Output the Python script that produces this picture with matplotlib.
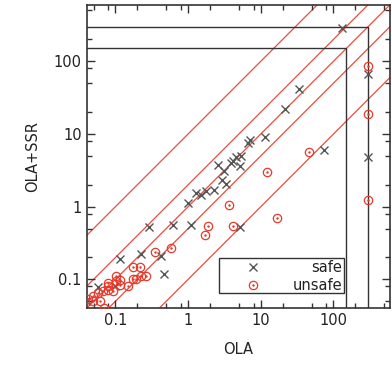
import numpy as np
import matplotlib
matplotlib.use("Agg")
import matplotlib.pyplot as plt
from matplotlib.patches import Rectangle
from matplotlib.ticker import LogLocator, FuncFormatter, NullFormatter

# runtimes (s): OLA vs OLA+SSR
safe_ola = [0.039, 0.058, 0.1, 0.117, 0.225, 0.43, 0.47, 0.29, 0.62, 1.08, 1.0,
            1.29, 1.5, 1.76, 2.29, 2.9, 3.3, 2.55, 3.14, 3.95, 4.1, 4.5, 5.3,
            5.1, 6.6, 7.2, 11.5, 21.5, 34, 74, 5.2, 130, 300, 300]
safe_ssr = [0.05, 0.079, 0.082, 0.19, 0.22, 0.21, 0.12, 0.53, 0.56, 0.56, 1.11,
            1.55, 1.45, 1.62, 1.72, 2.32, 2.05, 3.8, 3.05, 4.0, 4.2, 4.84, 5.0,
            3.65, 7.4, 8.2, 9.2, 22, 42, 6, 0.53, 290, 67, 4.8]

unsafe_ola = [0.042, 0.049, 0.049, 0.058, 0.061, 0.069, 0.068, 0.079, 0.079,
              0.079, 0.093, 0.101, 0.103, 0.114, 0.117, 0.149, 0.174, 0.215,
              0.174, 0.194, 0.227, 0.26, 0.35, 0.585, 1.73, 1.86, 4.08, 3.7,
              16.9, 12.3, 46, 300, 300, 300]
unsafe_ssr = [0.053, 0.05, 0.06, 0.064, 0.05, 0.041, 0.069, 0.071, 0.08,
              0.09, 0.07, 0.11, 0.094, 0.085, 0.099, 0.08, 0.15, 0.15,
              0.1, 0.1, 0.11, 0.11, 0.24, 0.27, 0.41, 0.54, 0.54, 1.07,
              0.69, 2.96, 5.7, 85, 18.6, 1.24]

ratios = [10, 2, 1, 0.5, 0.1]
timeouts = [150, 300]
lo, hi = 0.04, 600

red = "#e8392a"
gray = "#555555"

fig = plt.figure(figsize=(3.92, 3.65), dpi=100)
ax = fig.add_axes([0.2207, 0.1553, 0.7743, 0.8318])
ax.set_xscale("log")
ax.set_yscale("log")
ax.set_xlim(lo, hi)
ax.set_ylim(lo, hi)

xs = np.array([lo, hi])
for r in ratios:
    ax.plot(xs, r * xs, color=red, lw=0.9, alpha=0.9, zorder=1)

for t in timeouts:
    ax.plot([lo, t, t], [t, t, lo], color="#333333", lw=1.0, zorder=2)

ax.plot(safe_ola, safe_ssr, ls="none", marker="x", ms=6, mew=1.0, color=gray, zorder=3)
ax.plot(unsafe_ola, unsafe_ssr, ls="none", marker="o", ms=6, mew=0.9,
        mfc="none", mec=red, zorder=4)
ax.plot(unsafe_ola, unsafe_ssr, ls="none", marker=".", ms=1.5, color=red, zorder=4)

fmt = FuncFormatter(lambda v, p: f"{v:g}")
for axis in (ax.xaxis, ax.yaxis):
    axis.set_major_locator(LogLocator(base=10, numticks=10))
    axis.set_minor_locator(LogLocator(base=10, subs=(2, 5, 8), numticks=10))
    axis.set_major_formatter(fmt)
    axis.set_minor_formatter(NullFormatter())
ax.tick_params(which="both", direction="in", top=True, right=True, labelsize=10.5,
               color="#333333", labelcolor="#222222")
ax.tick_params(which="major", length=6, width=1)
ax.tick_params(which="minor", length=3.5, width=1)
for s in ax.spines.values():
    s.set_color("#333333")
    s.set_linewidth(1.2)

ax.set_xlabel("OLA", fontsize=10.5, color="#222222", labelpad=10)
ax.set_ylabel("OLA+SSR", fontsize=10.5, color="#222222", labelpad=10)

# gnuplot-like key box
ax.add_patch(Rectangle((0.4376, 0.049), 0.4114, 0.1177, transform=ax.transAxes,
                       fill=False, ec="#333333", lw=1.0, zorder=5))
ax.plot([0.548], [0.135], transform=ax.transAxes, marker="x", ms=6, mew=1.0,
        color=gray, ls="none", zorder=6)
ax.plot([0.548], [0.0767], transform=ax.transAxes, marker="o", ms=6, mew=0.9,
        mfc="none", mec=red, ls="none", zorder=6)
ax.plot([0.548], [0.0767], transform=ax.transAxes, marker=".", ms=1.5,
        color=red, ls="none", zorder=6)
ax.text(0.843, 0.135, "safe", transform=ax.transAxes, ha="right", va="center",
        fontsize=10.5, color="#222222")
ax.text(0.843, 0.0767, "unsafe", transform=ax.transAxes, ha="right", va="center",
        fontsize=10.5, color="#222222")

fig.savefig("out.png", dpi=100)
